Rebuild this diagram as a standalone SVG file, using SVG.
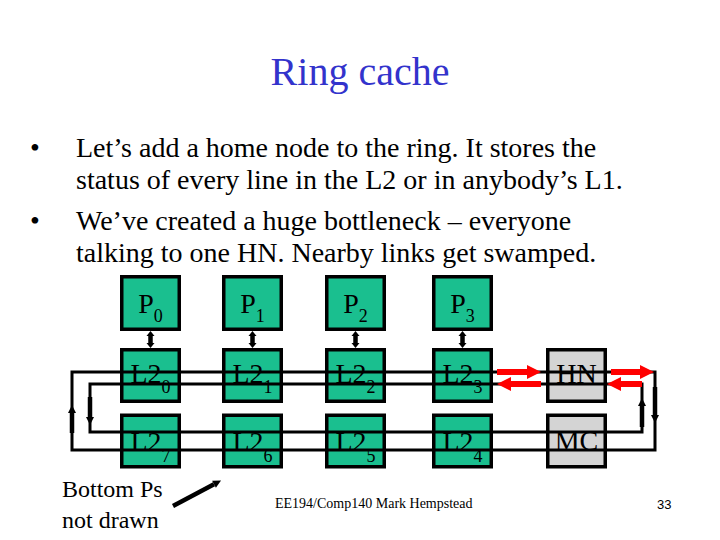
<svg xmlns="http://www.w3.org/2000/svg" width="720" height="540" viewBox="0 0 720 540">
<style>
.box{fill:#1ABF8F;stroke:#000;stroke-width:3.5}
.gray{fill:#D4D4D4;stroke:#000;stroke-width:3.5}
.serif{font-family:"Liberation Serif","Times New Roman",serif;fill:#000}
.lbl{font-size:28px;text-anchor:middle}
.sub{font-size:18px}
.ring{fill:none;stroke:#000;stroke-width:3}
.thick{fill:none;stroke:#000;stroke-width:4.5}
.red{fill:none;stroke:#FF0000;stroke-width:6}
</style>
<defs>
<marker id="redHead" markerUnits="userSpaceOnUse" markerWidth="16" markerHeight="16" refX="0" refY="7" orient="auto" overflow="visible"><path d="M0,0 L14,7 L0,14 z" fill="#FF0000"/></marker>
<marker id="blkHead" markerUnits="userSpaceOnUse" markerWidth="10" markerHeight="10" refX="0" refY="4" orient="auto-start-reverse" overflow="visible"><path d="M0,0 L8,4 L0,8 z" fill="#000"/></marker>
<marker id="smallHead" markerUnits="userSpaceOnUse" markerWidth="10" markerHeight="10" refX="0" refY="4" orient="auto-start-reverse" overflow="visible"><path d="M0,0 L5,4 L0,8 z" fill="#000"/></marker>
</defs>
<rect width="720" height="540" fill="#fff"/>
<text class="serif" x="360" y="85" font-size="40" text-anchor="middle" style="fill:#3333CC">Ring cache</text>
<g class="serif" font-size="28">
<text x="30" y="157">•</text>
<text x="76" y="157">Let’s add a home node to the ring. It stores the</text>
<text x="76" y="189">status of every line in the L2 or in anybody’s L1.</text>
<text x="30" y="230">•</text>
<text x="76" y="230">We’ve created a huge bottleneck – everyone</text>
<text x="76" y="262">talking to one HN. Nearby links get swamped.</text>
</g>
<g id="P0"><rect class="box" x="121.75" y="276.75" width="57.5" height="52.5"/><text class="serif lbl" x="150.5" y="313">P<tspan class="sub" dy="9">0</tspan></text></g>
<g id="P1"><rect class="box" x="223.75" y="276.75" width="57.5" height="52.5"/><text class="serif lbl" x="252.5" y="313">P<tspan class="sub" dy="9">1</tspan></text></g>
<g id="P2"><rect class="box" x="326.75" y="276.75" width="57.5" height="52.5"/><text class="serif lbl" x="355.5" y="313">P<tspan class="sub" dy="9">2</tspan></text></g>
<g id="P3"><rect class="box" x="433.75" y="276.75" width="57.5" height="52.5"/><text class="serif lbl" x="462.5" y="313">P<tspan class="sub" dy="9">3</tspan></text></g>
<g id="L2_0"><rect class="box" x="121.75" y="349.75" width="57.5" height="51.5"/><text class="serif lbl" x="150.5" y="383">L2<tspan class="sub" dy="10">0</tspan></text></g>
<g id="L2_1"><rect class="box" x="223.75" y="349.75" width="57.5" height="51.5"/><text class="serif lbl" x="252.5" y="383">L2<tspan class="sub" dy="10">1</tspan></text></g>
<g id="L2_2"><rect class="box" x="326.75" y="349.75" width="57.5" height="51.5"/><text class="serif lbl" x="355.5" y="383">L2<tspan class="sub" dy="10">2</tspan></text></g>
<g id="L2_3"><rect class="box" x="433.75" y="349.75" width="57.5" height="51.5"/><text class="serif lbl" x="462.5" y="383">L2<tspan class="sub" dy="10">3</tspan></text></g>
<g id="HN"><rect class="gray" x="547.75" y="349.75" width="57.5" height="51.5"/><text class="serif lbl" x="576.5" y="383">HN</text></g>
<g id="L2_7"><rect class="box" x="121.75" y="415.25" width="57.5" height="51.5"/><text class="serif lbl" x="150.5" y="451">L2<tspan class="sub" dy="11">7</tspan></text></g>
<g id="L2_6"><rect class="box" x="223.75" y="415.25" width="57.5" height="51.5"/><text class="serif lbl" x="252.5" y="451">L2<tspan class="sub" dy="11">6</tspan></text></g>
<g id="L2_5"><rect class="box" x="326.75" y="415.25" width="57.5" height="51.5"/><text class="serif lbl" x="355.5" y="451">L2<tspan class="sub" dy="11">5</tspan></text></g>
<g id="L2_4"><rect class="box" x="433.75" y="415.25" width="57.5" height="51.5"/><text class="serif lbl" x="462.5" y="451">L2<tspan class="sub" dy="11">4</tspan></text></g>
<g id="MC"><rect class="gray" x="547.75" y="415.25" width="57.5" height="51.5"/><text class="serif lbl" x="576.5" y="450">MC</text></g>
<g id="connectors">
<path class="ring" d="M72,372 H655 V450 H72 Z"/>
<path class="ring" d="M90,384 H642 V432 H90 Z"/>
<line class="thick" x1="150.5" y1="336" x2="150.5" y2="343" marker-start="url(#smallHead)" marker-end="url(#smallHead)"/>
<line class="thick" x1="252.5" y1="336" x2="252.5" y2="343" marker-start="url(#smallHead)" marker-end="url(#smallHead)"/>
<line class="thick" x1="355.5" y1="336" x2="355.5" y2="343" marker-start="url(#smallHead)" marker-end="url(#smallHead)"/>
<line class="thick" x1="462.5" y1="336" x2="462.5" y2="343" marker-start="url(#smallHead)" marker-end="url(#smallHead)"/>
<line class="thick" x1="72" y1="433" x2="72" y2="413" marker-end="url(#blkHead)"/>
<line class="thick" x1="90" y1="397" x2="90" y2="417" marker-end="url(#blkHead)"/>
<line class="thick" x1="642" y1="427" x2="642" y2="406" marker-end="url(#blkHead)"/>
<line class="thick" x1="655" y1="387" x2="655" y2="415" marker-end="url(#blkHead)"/>
<line class="red" x1="497" y1="372" x2="527" y2="372" marker-end="url(#redHead)"/>
<line class="red" x1="541" y1="384" x2="511" y2="384" marker-end="url(#redHead)"/>
<line class="red" x1="611" y1="372" x2="640" y2="372" marker-end="url(#redHead)"/>
<line class="red" x1="642" y1="384" x2="621" y2="384" marker-end="url(#redHead)"/>
<line class="thick" x1="173" y1="506" x2="214" y2="484.2" marker-end="url(#blkHead)"/>
</g>
<g class="serif" font-size="24">
<text x="62" y="497">Bottom Ps</text>
<text x="62" y="528">not drawn</text>
</g>
<text class="serif" x="275" y="508" font-size="14">EE194/Comp140 Mark Hempstead</text>
<text x="657" y="509" font-family="Liberation Sans, Arial, sans-serif" font-size="13">33</text>
</svg>
